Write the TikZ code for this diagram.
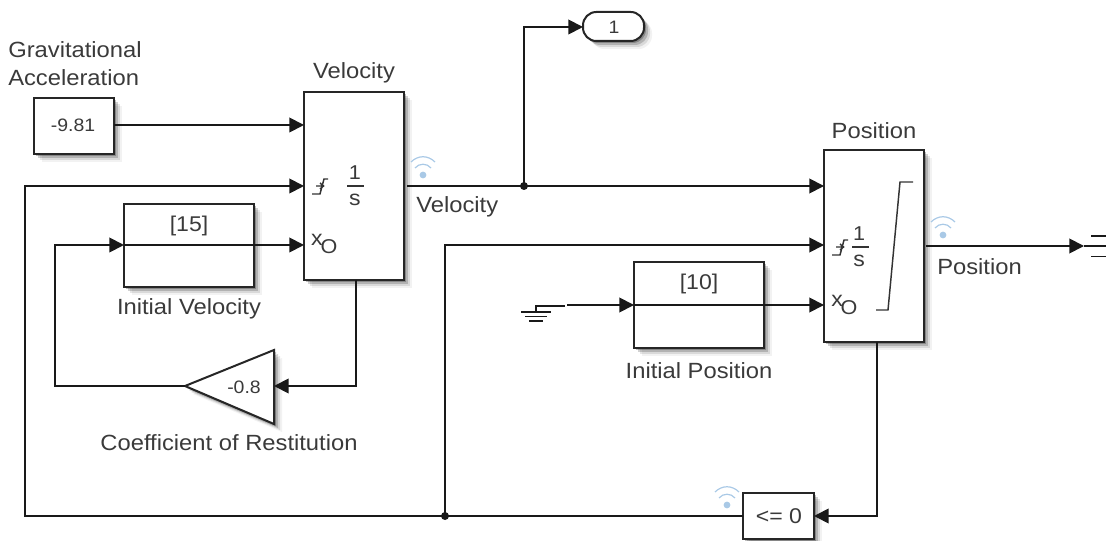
\documentclass[tikz,border=0pt]{standalone}
\usepackage{fontspec}
\setmainfont{Liberation Sans}
\usetikzlibrary{arrows.meta,shadows}
\definecolor{inktext}{HTML}{3A3A3A}
\definecolor{wifiblue}{HTML}{A9C9E6}
\newfontfamily\widesans[FakeStretch=1.08]{Liberation Sans}
\newcommand{\labelfont}{\widesans\fontsize{16.5pt}{20pt}\selectfont}
\newcommand{\blockfont}{\widesans\fontsize{16pt}{19pt}\selectfont}
\tikzset{
  softshadow/.style={
    general shadow={shadow xshift=1.5pt,shadow yshift=-1.5pt,fill=black,opacity=.25},
    general shadow={shadow xshift=3pt,shadow yshift=-3pt,fill=black,opacity=.18},
    general shadow={shadow xshift=4.5pt,shadow yshift=-4.5pt,fill=black,opacity=.1},
    general shadow={shadow xshift=6pt,shadow yshift=-6pt,fill=black,opacity=.05}},
  blockbox/.style={draw=black!85,line width=1.5pt,fill=white,inner sep=0pt,anchor=north west,softshadow},
  wire/.style={draw=black!90,line width=1.4pt},
  arrowwire/.style={wire,-{Triangle[length=11pt,width=11pt]}},
  dot/.style={circle,fill=black!90,inner sep=0pt,minimum size=6pt},
  lbl/.style={font=\labelfont,text=inktext,inner sep=0pt},
  blk/.style={font=\blockfont,text=inktext,inner sep=0pt},
  glyph/.style={draw=black!80,line width=1.1pt},
  wifi/.pic={
    \fill[wifiblue] (0,0) circle[radius=3.4];
    \draw[wifiblue,line width=.9pt] (-8,-7) .. controls (-4,-12) and (4,-12) .. (8,-7);
    \draw[wifiblue,line width=.9pt] (-12,-13) .. controls (-5,-20) and (5,-20) .. (12,-13);
  }
}
\begin{document}
\begin{tikzpicture}[x=.75pt,y=-.75pt]
\useasboundingbox (0,0) rectangle (1106,541);
% blocks
\node[blockbox,minimum width=60pt,minimum height=42pt] (const) at (33,97) {};
\node[blk,font=\widesans\fontsize{13.5pt}{16pt}\selectfont] (constt) at (73,125) {-9.81};
\node[blockbox,minimum width=75pt,minimum height=141pt] (vint) at (303,91) {};
\node[blockbox,minimum width=75pt,minimum height=144pt] (pint) at (823,149) {};
\node[blockbox,minimum width=97.5pt,minimum height=62.25pt] (ivel) at (123,203) {};
\node[blockbox,minimum width=97.5pt,minimum height=64.5pt] (ipos) at (633,261) {};
\node[blockbox,minimum width=53.25pt,minimum height=34.5pt] (cmp) at (742,492) {};
\node[blockbox,minimum width=45.75pt,minimum height=21.75pt,rounded corners=10pt] (out) at (582,11) {};
\node[blk,font=\widesans\fontsize{13.5pt}{16pt}\selectfont] (outt) at (614,27) {1};
\node[blk] (cmpt) at (779,516) {<= 0};
\node[blk] (ivelt) at (189,226) {[15]};
\node[blk] (ipost) at (699,284) {[10]};
% gain
\coordinate (gapex) at (185,386);
\coordinate (gin) at (274,386);
\path[blockbox] (gapex) -- (274,350) -- (274,424) -- cycle;
\node[blk,font=\widesans\fontsize{13.5pt}{16pt}\selectfont] (gaint) at (244,387) {-0.8};
% ports
\coordinate (cout) at (114,125);
\coordinate (vin1) at (304,125);
\coordinate (vin2) at (304,186);
\coordinate (vin3) at (304,245);
\coordinate (vout) at (407,186);
\coordinate (vbot) at (356,280);
\coordinate (pin1) at (824,186);
\coordinate (pin2) at (824,245);
\coordinate (pin3) at (824,305);
\coordinate (pout) at (926,246);
\coordinate (pbot) at (877,342);
\coordinate (ivin) at (124,245);
\coordinate (ivout) at (254,245);
\coordinate (ipin) at (634,305);
\coordinate (ipout) at (764,305);
\coordinate (cin) at (814,516);
\coordinate (cout2) at (743,516);
\coordinate (outin) at (583,27);
\coordinate (gnd) at (567,305);
\coordinate (term) at (1084,246);
\coordinate (c1) at (25,516);
\coordinate (c2) at (25,186);
\coordinate (c3) at (445,245);
\coordinate (c4) at (524,27);
\coordinate (c5) at (877,516);
\coordinate (c6) at (356,386);
\coordinate (c7) at (55,386);
\coordinate (c8) at (55,245);
\node[dot] (j1) at (524,186) {};
\node[dot] (j2) at (445,516) {};
% wires
\draw[arrowwire] (cout) -- (vin1);
\draw[arrowwire] (cout2) -- (j2.center) -- (c1) -- (c2) -- (vin2);
\draw[arrowwire] (j2.center) -- (c3) -- (pin2);
\draw[arrowwire] (vout) -- (pin1);
\draw[arrowwire] (j1.center) -- (c4) -- (outin);
\draw[arrowwire] (pout) -- (term);
\draw[arrowwire] (pbot) -- (c5) -- (cin);
\draw[arrowwire] (vbot) -- (c6) -- (gin);
\draw[arrowwire] (gapex) -- (c7) -- (c8) -- (ivin);
\draw[arrowwire] (ivout) -- (vin3);
\draw[arrowwire] (gnd) -- (ipin);
\draw[arrowwire] (ipout) -- (pin3);
\draw[wire] (ivin) -- (ivout);
\draw[wire] (ipin) -- (ipout);
% ground
\draw[wire,line width=1.2pt] (565,306) -- (536,306) -- (536,312);
\draw[wire,line width=1.2pt] (521,312) -- (551,312) (525,316.5) -- (547,316.5) (529,321) -- (543,321);
% terminator
\draw[wire] (1091,236) -- (1106,236) (term) -- (1106,246) (1091,256.5) -- (1106,256.5);
% integrator glyphs
\node[blk,font=\widesans\fontsize{15pt}{18pt}\selectfont] (v1) at (355,173) {1};
\draw[glyph] (347,186) -- (364,186);
\node[blk] (vs) at (355,200) {s};
\node[blk] (vx) at (317,240) {x};
\node[blk,font=\widesans\fontsize{15pt}{18pt}\selectfont] (vo) at (329,247) {O};
\draw[glyph] (312,194) -- (320,194) -- (324,179) -- (328,179) (316,186) -- (323,186) (320,183) -- (323.5,186) -- (320,189);
\node[blk,font=\widesans\fontsize{15pt}{18pt}\selectfont] (p1) at (859,234) {1};
\draw[glyph] (852,247) -- (869,247);
\node[blk] (ps) at (859,261) {s};
\node[blk] (px) at (837,301) {x};
\node[blk,font=\widesans\fontsize{15pt}{18pt}\selectfont] (po) at (849,308) {O};
\draw[glyph] (832,255) -- (840,255) -- (844,240) -- (848,240) (836,247) -- (843,247) (840,244) -- (843.5,247) -- (840,250);
\draw[glyph] (876,310) -- (888,310) -- (900,182) -- (913,182);
% wifi
\pic at (423,175) {wifi};
\pic at (943,235) {wifi};
\pic at (727,505) {wifi};
% labels
\node[lbl,anchor=west] (g1) at (8,50) {Gravitational};
\node[lbl,anchor=west] (g2) at (8,78) {Acceleration};
\node[lbl] (tv) at (354,73) {Velocity};
\node[lbl] (tp) at (874,131) {Position};
\node[lbl,anchor=west] (lv) at (416,207) {Velocity};
\node[lbl,anchor=west] (lp) at (937,267) {Position};
\node[lbl] (liv) at (189,309) {Initial Velocity};
\node[lbl] (lip) at (699,371) {Initial Position};
\node[lbl] (lco) at (229,443) {Coefficient of Restitution};
\end{tikzpicture}
\end{document}
